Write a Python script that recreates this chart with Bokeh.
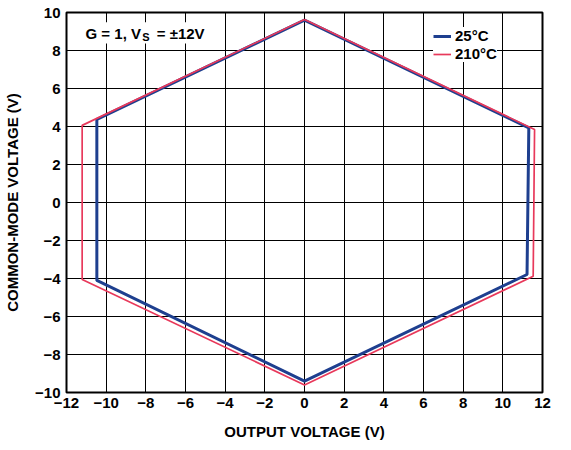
import math
from bokeh.plotting import figure
from bokeh.models import (FixedTicker, Legend, LegendItem, Label, BoxAnnotation)
from bokeh.embed import file_html
from bokeh.resources import INLINE

# ---- data ----
x_25c = [0.0, 11.31, 11.22, 0.0, -10.47, -10.47, 0.0]
y_25c = [9.60, 3.93, -3.79, -9.40, -4.10, 4.38, 9.60]

x_210c = [0.0, 11.60, 11.53, 0.0, -11.21, -11.21, 0.0]
y_210c = [9.63, 3.84, -3.88, -9.60, -4.05, 4.06, 9.63]

series_labels = ["25°C", "210°C"]

x_ticks = [-12, -10, -8, -6, -4, -2, 0, 2, 4, 6, 8, 10, 12]
x_tick_labels = ["\u221212", "\u221210", "\u22128", "\u22126", "\u22124", "\u22122",
                 "0", "2", "4", "6", "8", "10", "12"]
y_ticks = [-10, -8, -6, -4, -2, 0, 2, 4, 6, 8, 10]
y_tick_labels = ["\u221210", "\u22128", "\u22126", "\u22124", "\u22122",
                 "0", "2", "4", "6", "8", "10"]

BLUE = "#1e3f8f"
RED = "#e8395b"
FONT = "Liberation Sans"

p = figure(width=571, height=450, output_backend="svg", toolbar_location=None,
           x_range=(-12, 12), y_range=(-10, 10),
           min_border_left=66, min_border_right=29, min_border_top=12,
           min_border_bottom=58)
p.title.visible = False

p.outline_line_color = "black"
p.outline_line_width = 2
p.background_fill_color = "white"

for ax, ticks, labels in ((p.xaxis[0], x_ticks, x_tick_labels),
                          (p.yaxis[0], y_ticks, y_tick_labels)):
    ax.ticker = FixedTicker(ticks=ticks)
    ax.major_label_overrides = {t: l for t, l in zip(ticks, labels)}
    ax.major_tick_line_color = None
    ax.minor_tick_line_color = None
    ax.major_tick_out = 0
    ax.major_tick_in = 0
    ax.minor_tick_out = 0
    ax.minor_tick_in = 0
    ax.axis_line_color = None
    ax.major_label_text_font = FONT
    ax.major_label_text_font_style = "bold"
    ax.major_label_text_font_size = "15px"
    ax.major_label_text_color = "black"
    ax.axis_label_text_font = FONT
    ax.axis_label_text_font_style = "bold"
    ax.axis_label_text_font_size = "15px"
    ax.axis_label_text_color = "black"

p.xaxis.axis_label = "OUTPUT VOLTAGE (V)"
p.yaxis.axis_label = "COMMON-MODE VOLTAGE (V)"
p.xaxis.major_label_standoff = 5
p.xaxis.axis_label_standoff = 12
p.yaxis.major_label_standoff = 6
p.yaxis.axis_label_standoff = 11

p.xgrid.ticker = FixedTicker(ticks=x_ticks)
p.ygrid.ticker = FixedTicker(ticks=y_ticks)
for g in (p.xgrid[0], p.ygrid[0]):
    g.grid_line_color = "black"
    g.grid_line_width = 1

r25 = p.line(x_25c, y_25c, line_color=BLUE, line_width=3)
r210 = p.line(x_210c, y_210c, line_color=RED, line_width=1.7)

legend = Legend(items=[LegendItem(label=series_labels[0], renderers=[r25]),
                       LegendItem(label=series_labels[1], renderers=[r210])],
                location=(367, 330), orientation="vertical",
                label_text_font=FONT, label_text_font_style="bold",
                label_text_font_size="15px", label_text_color="black",
                glyph_width=18, glyph_height=16, label_height=16,
                label_standoff=4, spacing=1, padding=6, margin=0,
                border_line_color=None, background_fill_color="white",
                background_fill_alpha=1.0)
p.add_layout(legend, "center")

# annotation box with condition text
p.add_layout(BoxAnnotation(left=-11.4, right=-4.5, bottom=8.37, top=9.49,
                           fill_color="white", fill_alpha=1.0, line_color=None))
p.add_layout(Label(x=-11.04, y=8.91, text="G = 1, V", text_font=FONT,
                   text_font_style="bold", text_font_size="15px",
                   text_baseline="middle", text_align="left", text_color="black"))
p.add_layout(Label(x=-8.18, y=8.72, text="S", text_font=FONT,
                   text_font_style="bold", text_font_size="11px",
                   text_baseline="middle", text_align="left", text_color="black"))
p.add_layout(Label(x=-7.45, y=8.91, text="= \u00b112V", text_font=FONT,
                   text_font_style="bold", text_font_size="15px",
                   text_baseline="middle", text_align="left", text_color="black"))

# figure code on the right edge
p.add_layout(Label(x=13.06, y=-10.95, text="09412-010", text_font=FONT,
                   text_font_size="10px", text_baseline="middle",
                   text_align="left", angle=math.pi / 2, text_color="#333333"))

open("out.html", "w").write(file_html(p, INLINE))
